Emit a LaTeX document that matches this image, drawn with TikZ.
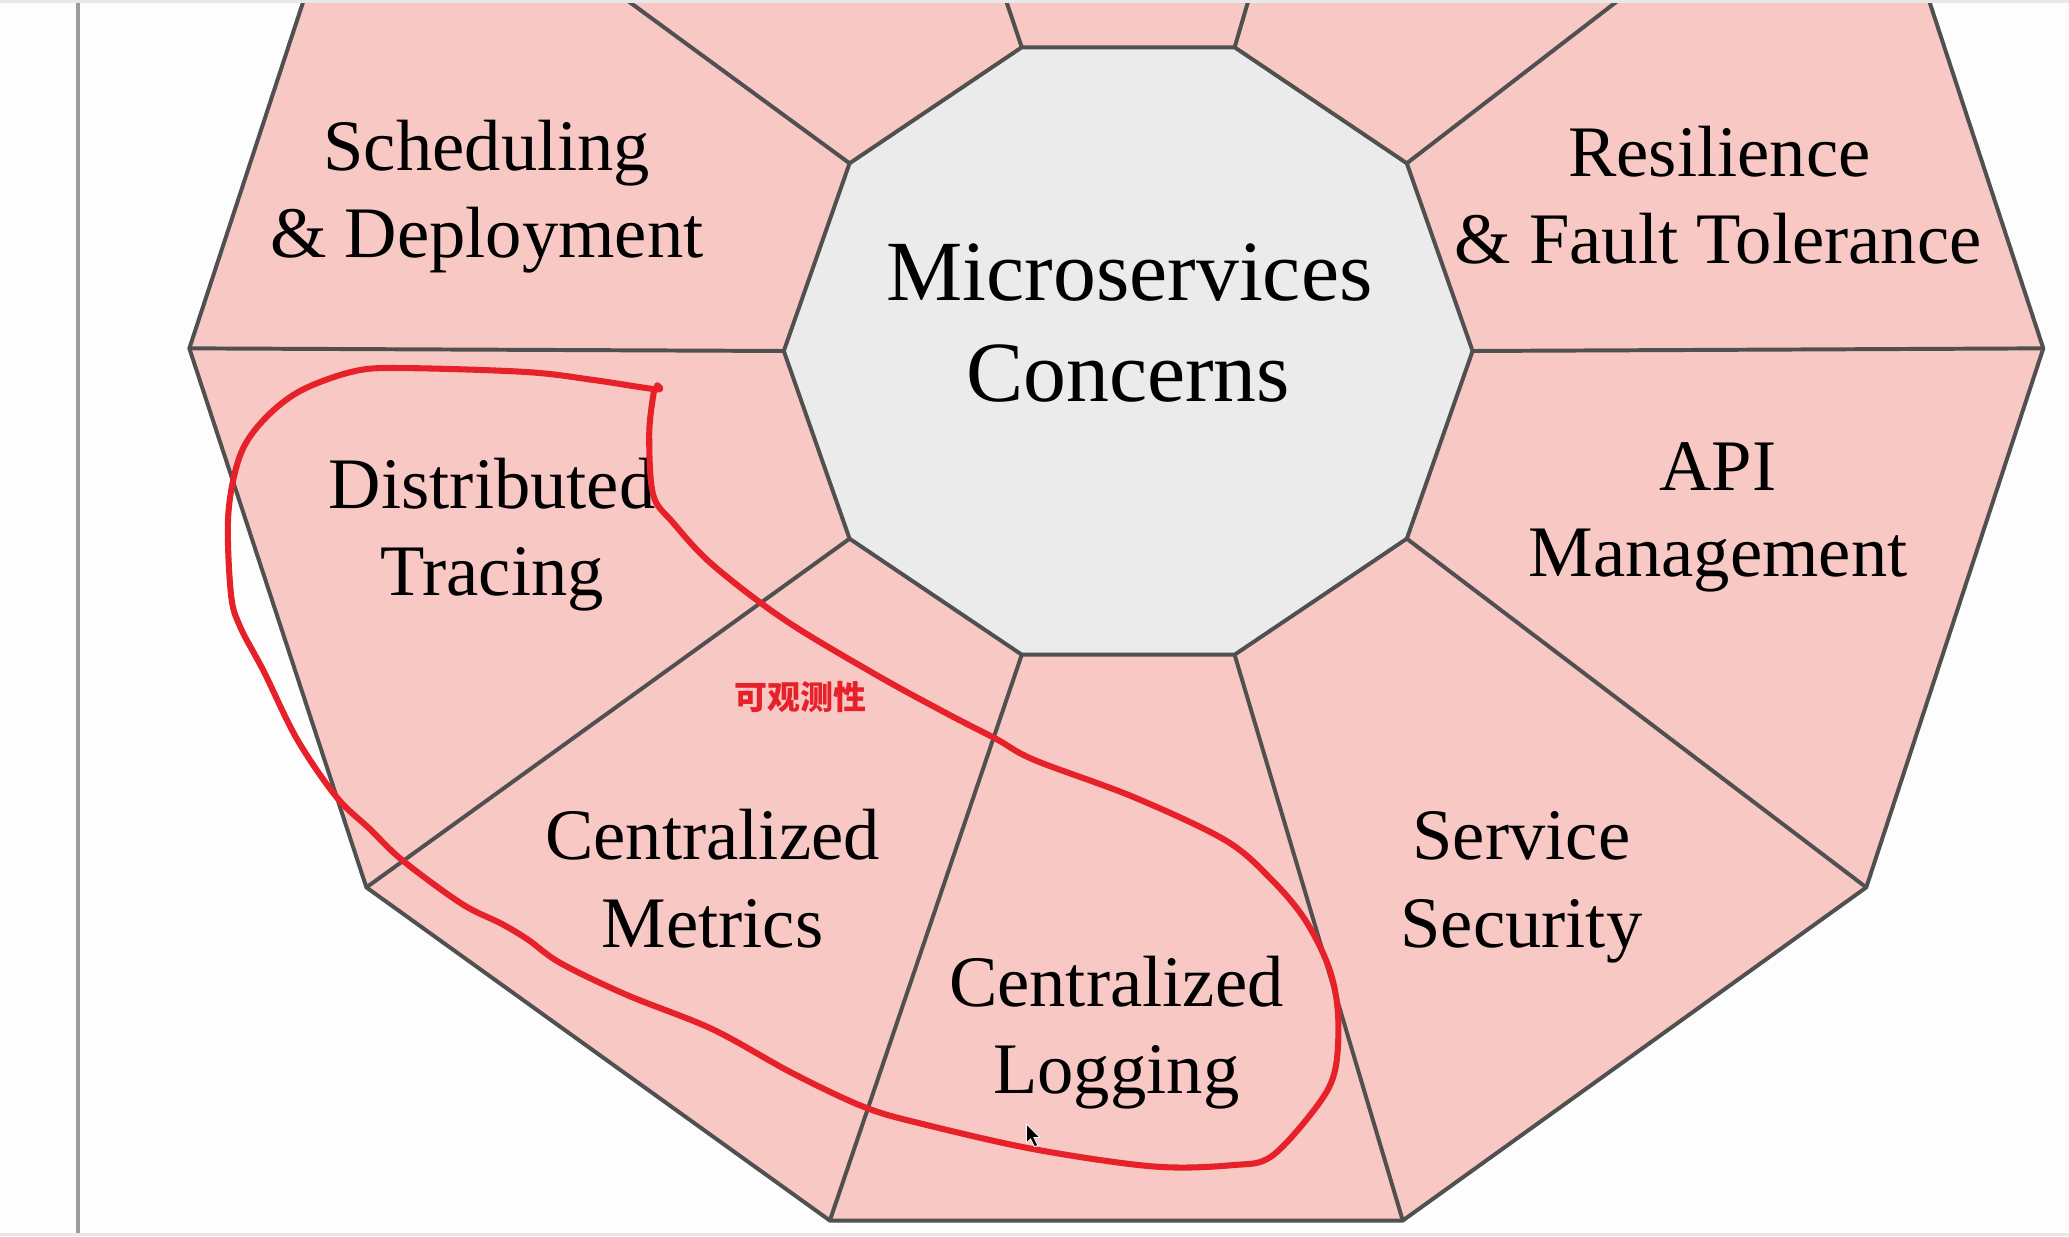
\documentclass[tikz,border=0pt]{standalone}
\usepackage{fontspec}
\setmainfont{Liberation Serif}
\newfontfamily\cjk{Noto Sans CJK SC}
\definecolor{segpink}{HTML}{F8C8C5}
\definecolor{coregray}{HTML}{EBEBEB}
\definecolor{edgegray}{HTML}{505050}
\definecolor{penred}{HTML}{E62129}
\definecolor{pagebg}{HTML}{FDFDFD}
\definecolor{stripgray}{HTML}{E8E8E8}
\definecolor{rulegray}{HTML}{9C9C9C}
\begin{document}
\begin{tikzpicture}[x=1pt,y=-1pt,
  lbl/.style={font=\fontsize{55}{66}\selectfont, anchor=base, inner sep=0pt, text=black},
  corelbl/.style={font=\fontsize{65}{76}\selectfont, anchor=base, inner sep=0pt, text=black},
  edge/.style={draw=edgegray, line width=3pt, line join=round},
  pen/.style={draw=penred, line width=4.6pt, line cap=round, line join=round}]
\useasboundingbox (0,0) rectangle (1568,937);
\fill[pagebg] (0,0) rectangle (1568,937);
\fill[stripgray] (0,0) rectangle (1568,2.5);
\fill[stripgray] (0,934.5) rectangle (1568,937);
\draw[rulegray, line width=2.5pt] (59,2.5) -- (59,934.5);
\foreach \k in {0,...,9} {
  \coordinate (o\k) at ({846+702.5*cos(36*\k)},{264-695*sin(36*\k)});
  \coordinate (i\k) at ({855+261*cos(36*\k)},{266-242*sin(36*\k)});
}
\begin{scope}
\clip (0,2.5) rectangle (1568,934.5);
\fill[segpink] (o0) -- (o1) -- (o2) -- (o3) -- (o4) -- (o5) -- (o6) -- (o7) -- (o8) -- (o9) -- cycle;
\filldraw[fill=coregray, edge] (i0) -- (i1) -- (i2) -- (i3) -- (i4) -- (i5) -- (i6) -- (i7) -- (i8) -- (i9) -- cycle;
\foreach \k in {0,...,9} { \draw[edge] (i\k) -- (o\k); }
\draw[edge] (o0) -- (o1) -- (o2) -- (o3) -- (o4) -- (o5) -- (o6) -- (o7) -- (o8) -- (o9) -- cycle;
\end{scope}

\node[corelbl] (core1) at (856,228) {Microservices};
\node[corelbl] (core2) at (855,304) {Concerns};
\node[lbl] (sched1) at (369,129) {Scheduling};
\node[lbl] (sched2) at (369,195) {\& Deployment};
\node[lbl] (res1) at (1303,134) {Resilience};
\node[lbl] (res2) at (1302,200) {\& Fault Tolerance};
\node[lbl] (trace1) at (373,385) {Distributed};
\node[lbl] (trace2) at (373,451) {Tracing};
\node[lbl] (api1) at (1302,372) {API};
\node[lbl] (api2) at (1302,437) {Management};
\node[lbl] (met1) at (540,651) {Centralized};
\node[lbl] (met2) at (540,718) {Metrics};
\node[lbl] (log1) at (846,763) {Centralized};
\node[lbl] (log2) at (846,829) {Logging};
\node[lbl] (sec1) at (1153,651) {Service};
\node[lbl] (sec2) at (1153,718) {Security};

\node[font=\cjk\bfseries\fontsize{25}{25}\selectfont, text=penred, inner sep=0pt] (obs) at (607,528) {可观测性};

\draw[pen] plot[smooth, tension=0.55] coordinates {(498,292) (497,295) (450,288) (400,282) (310,279) (270,281) (228,296) (200,318) (182,345) (173,390) (175,450) (182,475) (200,509) (225,560) (255,604) (280,628) (305,652) (350,685) (380,700) (400,712) (425,730) (475,754) (540,780) (600,813) (655,839) (700,852) (784,871) (874,884) (934,883) (964,876) (999,837) (1012,810) (1014,768) (1007,733) (989,697) (964,667) (929,637) (859,604) (784,576) (755,560) (720,542) (665,512) (595,470) (540,428) (510,396) (495,375) (492,330) (495,300) (497,294)};

\fill[black, draw=white, line width=0.6pt] (778,852) -- (778,866) -- (781,863) -- (784,869) -- (786.5,868) -- (783.5,862) -- (788,862) -- cycle;
\end{tikzpicture}
\end{document}
